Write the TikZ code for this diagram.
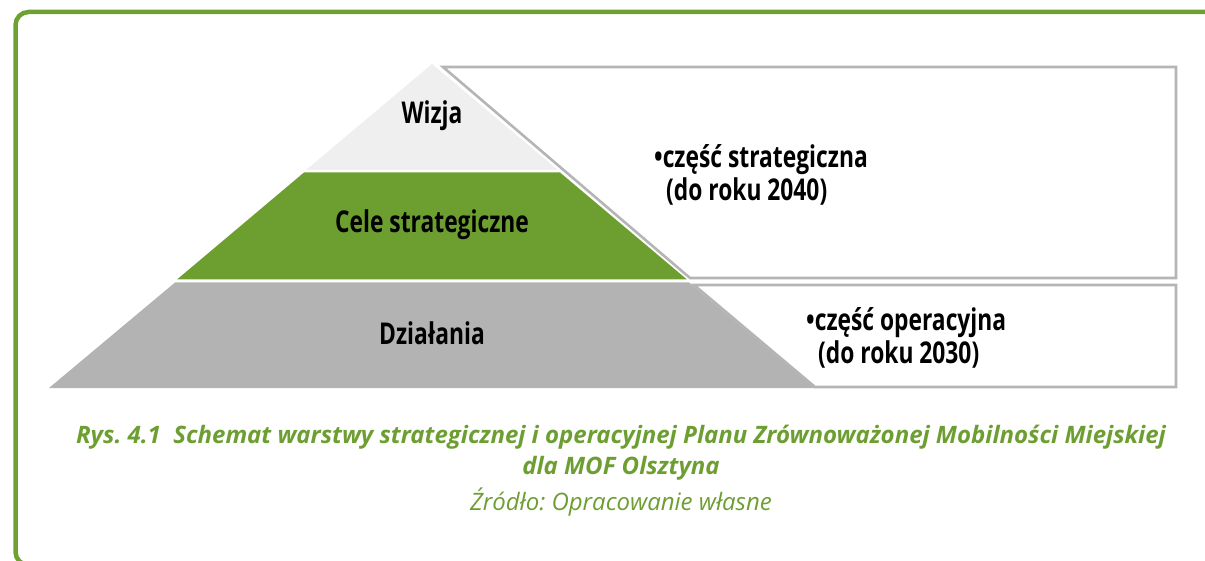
\documentclass[tikz,border=0pt]{standalone}
\usepackage{fontspec}
\setmainfont{Open Sans}
\newfontfamily\condbold[FakeStretch=0.76]{Open Sans Bold}
\usetikzlibrary{positioning}

\definecolor{framegreen}{HTML}{6FA132}
\definecolor{capgreen}{HTML}{6D9E31}
\definecolor{layergreen}{HTML}{6C9F2F}
\definecolor{lightlayer}{HTML}{EFEFEF}
\definecolor{midlayer}{HTML}{B3B3B4}
\definecolor{boxgray}{HTML}{B5B5B5}

\begin{document}
\frenchspacing
\begin{tikzpicture}[x=1pt,y=-1pt,
    layerlabel/.style={font=\condbold\fontsize{30}{34}\selectfont,text=black},
    sidetext/.style={font=\condbold\fontsize{30}{33}\selectfont,align=left,anchor=west,inner sep=0pt},
    sidebox/.style={draw=boxgray,line width=2.6pt,line join=miter},
    captext/.style={font=\fontsize{24}{31}\selectfont\bfseries\itshape,text=capgreen,align=center}]
  \useasboundingbox (0,0) rectangle (1205,561);
  \clip (0,0) rectangle (1205,561);

  % Frame
  \draw[framegreen,line width=4.5pt,rounded corners=13pt] (15.5,12) rectangle (1240,565);

  % Pyramid layers
  \fill[lightlayer] (432,64) -- (558,170) -- (306,170) -- cycle;
  \fill[layergreen] (560,172.5) -- (687,279.5) -- (177,279.5) -- (304,172.5) -- cycle;
  \fill[midlayer] (689,282.5) -- (815,388) -- (49,388) -- (175,282.5) -- cycle;

  % Side boxes
  \draw[sidebox] (443,67) -- (1176,67) -- (1176,278) -- (690,278) -- cycle;
  \draw[sidebox] (694,285) -- (1176,285) -- (1176,387) -- (815,387) -- cycle;

  % Layer labels
  \node[layerlabel] (wizja) at (432,116) {Wizja};
  \node[layerlabel] (cele) at (432,225) {Cele strategiczne};
  \node[layerlabel] (dzialania) at (432,333) {Działania};

  % Side texts
  \node[sidetext] (strat) at (654,175) {•część strategiczna\\\hspace{12pt}(do roku 2040)};
  \node[sidetext] (oper) at (806,338) {•część operacyjna\\\hspace{12pt}(do roku 2030)};

  % Caption
  \node[captext] (rys) at (621,453) {Rys. 4.1\ \ Schemat warstwy strategicznej i operacyjnej Planu Zrównoważonej Mobilności Miejskiej\\dla MOF Olsztyna};
  \node[captext,font=\fontsize{24}{30}\selectfont\itshape,below=0pt of rys] (zrodlo) {Źródło: Opracowanie własne};
\end{tikzpicture}
\end{document}
